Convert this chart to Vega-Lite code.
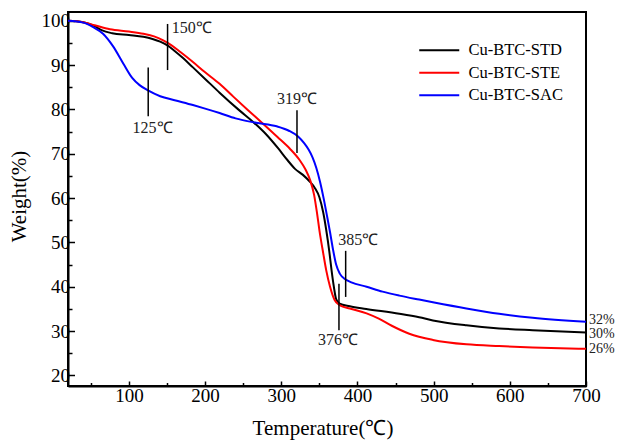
{
  "$schema": "https://vega.github.io/schema/vega-lite/v6.json",
  "width": 518,
  "height": 374,
  "autosize": {"type": "none"},
  "padding": {"left": 68, "top": 12, "right": 31, "bottom": 54},
  "background": "white",
  "config": {
    "font": "Liberation Serif",
    "view": {"stroke": "black", "strokeWidth": 2},
    "axis": {
      "grid": false,
      "domainColor": "black",
      "domainWidth": 2,
      "tickColor": "black",
      "tickWidth": 1.5,
      "labelColor": "black",
      "labelFontSize": 19,
      "labelFont": "Liberation Serif",
      "titleFont": "Liberation Serif",
      "titleFontSize": 21,
      "titleFontWeight": "normal",
      "titleColor": "black",
      "labelFlush": false,
      "labelOverlap": false,
      "labelBound": false
    }
  },
  "resolve": {"axis": {"x": "independent", "y": "independent"}},
  "datasets": {
    "curves": [
      {"sample": "Cu-BTC-STD", "T": 20, "W": 100},
      {"sample": "Cu-BTC-STD", "T": 40, "W": 99.7},
      {"sample": "Cu-BTC-STD", "T": 55, "W": 98.8},
      {"sample": "Cu-BTC-STD", "T": 64, "W": 97.9},
      {"sample": "Cu-BTC-STD", "T": 78, "W": 97.2},
      {"sample": "Cu-BTC-STD", "T": 100, "W": 96.8},
      {"sample": "Cu-BTC-STD", "T": 119, "W": 96.4},
      {"sample": "Cu-BTC-STD", "T": 131, "W": 95.9},
      {"sample": "Cu-BTC-STD", "T": 141, "W": 95.3},
      {"sample": "Cu-BTC-STD", "T": 151, "W": 94.4},
      {"sample": "Cu-BTC-STD", "T": 160, "W": 93.2},
      {"sample": "Cu-BTC-STD", "T": 171, "W": 91.6},
      {"sample": "Cu-BTC-STD", "T": 184, "W": 89.5},
      {"sample": "Cu-BTC-STD", "T": 200, "W": 86.9},
      {"sample": "Cu-BTC-STD", "T": 219, "W": 83.8},
      {"sample": "Cu-BTC-STD", "T": 245, "W": 79.8},
      {"sample": "Cu-BTC-STD", "T": 263, "W": 77.2},
      {"sample": "Cu-BTC-STD", "T": 280, "W": 74.4},
      {"sample": "Cu-BTC-STD", "T": 296, "W": 71.2},
      {"sample": "Cu-BTC-STD", "T": 308, "W": 68.6},
      {"sample": "Cu-BTC-STD", "T": 318, "W": 66.6},
      {"sample": "Cu-BTC-STD", "T": 328, "W": 65.3},
      {"sample": "Cu-BTC-STD", "T": 337, "W": 63.8},
      {"sample": "Cu-BTC-STD", "T": 344, "W": 62.3},
      {"sample": "Cu-BTC-STD", "T": 350, "W": 60.2},
      {"sample": "Cu-BTC-STD", "T": 355, "W": 56.8},
      {"sample": "Cu-BTC-STD", "T": 359, "W": 52.8},
      {"sample": "Cu-BTC-STD", "T": 363, "W": 48},
      {"sample": "Cu-BTC-STD", "T": 366, "W": 43.7},
      {"sample": "Cu-BTC-STD", "T": 369, "W": 40},
      {"sample": "Cu-BTC-STD", "T": 372, "W": 37.2},
      {"sample": "Cu-BTC-STD", "T": 376.5, "W": 36.2},
      {"sample": "Cu-BTC-STD", "T": 390, "W": 35.6},
      {"sample": "Cu-BTC-STD", "T": 411.5, "W": 35.0},
      {"sample": "Cu-BTC-STD", "T": 455, "W": 33.9},
      {"sample": "Cu-BTC-STD", "T": 481, "W": 33.1},
      {"sample": "Cu-BTC-STD", "T": 499, "W": 32.4},
      {"sample": "Cu-BTC-STD", "T": 543, "W": 31.3},
      {"sample": "Cu-BTC-STD", "T": 586, "W": 30.6},
      {"sample": "Cu-BTC-STD", "T": 630, "W": 30.2},
      {"sample": "Cu-BTC-STD", "T": 700, "W": 29.7},
      {"sample": "Cu-BTC-STE", "T": 20, "W": 100},
      {"sample": "Cu-BTC-STE", "T": 40, "W": 99.7},
      {"sample": "Cu-BTC-STE", "T": 55, "W": 99},
      {"sample": "Cu-BTC-STE", "T": 75, "W": 98.1},
      {"sample": "Cu-BTC-STE", "T": 100, "W": 97.6},
      {"sample": "Cu-BTC-STE", "T": 119, "W": 97.1},
      {"sample": "Cu-BTC-STE", "T": 133, "W": 96.5},
      {"sample": "Cu-BTC-STE", "T": 145, "W": 95.6},
      {"sample": "Cu-BTC-STE", "T": 155, "W": 94.6},
      {"sample": "Cu-BTC-STE", "T": 168, "W": 92.9},
      {"sample": "Cu-BTC-STE", "T": 184, "W": 90.7},
      {"sample": "Cu-BTC-STE", "T": 200, "W": 88.4},
      {"sample": "Cu-BTC-STE", "T": 219, "W": 85.8},
      {"sample": "Cu-BTC-STE", "T": 237, "W": 82.9},
      {"sample": "Cu-BTC-STE", "T": 256, "W": 79.9},
      {"sample": "Cu-BTC-STE", "T": 276, "W": 76.8},
      {"sample": "Cu-BTC-STE", "T": 295, "W": 73.8},
      {"sample": "Cu-BTC-STE", "T": 311, "W": 71.2},
      {"sample": "Cu-BTC-STE", "T": 324, "W": 68.6},
      {"sample": "Cu-BTC-STE", "T": 332, "W": 66.4},
      {"sample": "Cu-BTC-STE", "T": 338, "W": 64.0},
      {"sample": "Cu-BTC-STE", "T": 343, "W": 60.8},
      {"sample": "Cu-BTC-STE", "T": 347, "W": 56.5},
      {"sample": "Cu-BTC-STE", "T": 350, "W": 52.8},
      {"sample": "Cu-BTC-STE", "T": 355, "W": 47.6},
      {"sample": "Cu-BTC-STE", "T": 359, "W": 43.7},
      {"sample": "Cu-BTC-STE", "T": 364, "W": 40},
      {"sample": "Cu-BTC-STE", "T": 370, "W": 37},
      {"sample": "Cu-BTC-STE", "T": 377, "W": 35.8},
      {"sample": "Cu-BTC-STE", "T": 390, "W": 35.1},
      {"sample": "Cu-BTC-STE", "T": 412, "W": 34},
      {"sample": "Cu-BTC-STE", "T": 428, "W": 32.8},
      {"sample": "Cu-BTC-STE", "T": 445, "W": 31.2},
      {"sample": "Cu-BTC-STE", "T": 468, "W": 29.4},
      {"sample": "Cu-BTC-STE", "T": 499, "W": 28},
      {"sample": "Cu-BTC-STE", "T": 543, "W": 27},
      {"sample": "Cu-BTC-STE", "T": 586, "W": 26.6},
      {"sample": "Cu-BTC-STE", "T": 630, "W": 26.3},
      {"sample": "Cu-BTC-STE", "T": 700, "W": 26},
      {"sample": "Cu-BTC-SAC", "T": 20, "W": 100},
      {"sample": "Cu-BTC-SAC", "T": 40, "W": 99.6},
      {"sample": "Cu-BTC-SAC", "T": 53, "W": 98.6},
      {"sample": "Cu-BTC-SAC", "T": 66, "W": 97.1},
      {"sample": "Cu-BTC-SAC", "T": 79, "W": 94.3},
      {"sample": "Cu-BTC-SAC", "T": 92.5, "W": 90.4},
      {"sample": "Cu-BTC-SAC", "T": 104, "W": 87.2},
      {"sample": "Cu-BTC-SAC", "T": 114, "W": 85.5},
      {"sample": "Cu-BTC-SAC", "T": 125, "W": 84.3},
      {"sample": "Cu-BTC-SAC", "T": 141, "W": 83},
      {"sample": "Cu-BTC-SAC", "T": 160, "W": 82.1},
      {"sample": "Cu-BTC-SAC", "T": 184, "W": 81.0},
      {"sample": "Cu-BTC-SAC", "T": 200, "W": 80.2},
      {"sample": "Cu-BTC-SAC", "T": 219, "W": 79.2},
      {"sample": "Cu-BTC-SAC", "T": 240, "W": 78},
      {"sample": "Cu-BTC-SAC", "T": 267, "W": 77},
      {"sample": "Cu-BTC-SAC", "T": 294, "W": 76.2},
      {"sample": "Cu-BTC-SAC", "T": 310, "W": 75.2},
      {"sample": "Cu-BTC-SAC", "T": 322, "W": 73.9},
      {"sample": "Cu-BTC-SAC", "T": 330, "W": 72.4},
      {"sample": "Cu-BTC-SAC", "T": 336, "W": 70.9},
      {"sample": "Cu-BTC-SAC", "T": 341, "W": 69.2},
      {"sample": "Cu-BTC-SAC", "T": 346, "W": 66.8},
      {"sample": "Cu-BTC-SAC", "T": 351, "W": 63.6},
      {"sample": "Cu-BTC-SAC", "T": 356, "W": 59.6},
      {"sample": "Cu-BTC-SAC", "T": 360, "W": 56},
      {"sample": "Cu-BTC-SAC", "T": 364, "W": 52.3},
      {"sample": "Cu-BTC-SAC", "T": 368, "W": 48.3},
      {"sample": "Cu-BTC-SAC", "T": 372, "W": 45.0},
      {"sample": "Cu-BTC-SAC", "T": 377, "W": 42.9},
      {"sample": "Cu-BTC-SAC", "T": 383, "W": 41.8},
      {"sample": "Cu-BTC-SAC", "T": 392, "W": 41.0},
      {"sample": "Cu-BTC-SAC", "T": 412, "W": 40},
      {"sample": "Cu-BTC-SAC", "T": 433, "W": 38.9},
      {"sample": "Cu-BTC-SAC", "T": 455, "W": 38},
      {"sample": "Cu-BTC-SAC", "T": 481, "W": 37.1},
      {"sample": "Cu-BTC-SAC", "T": 499, "W": 36.5},
      {"sample": "Cu-BTC-SAC", "T": 543, "W": 35.1},
      {"sample": "Cu-BTC-SAC", "T": 586, "W": 33.9},
      {"sample": "Cu-BTC-SAC", "T": 630, "W": 33},
      {"sample": "Cu-BTC-SAC", "T": 700, "W": 32.1}
    ],
    "markers": [
      {"T": 150.7, "W1": 99.3, "W2": 88.9},
      {"T": 125.3, "W1": 89.5, "W2": 78.5},
      {"T": 320.6, "W1": 79.8, "W2": 70.2},
      {"T": 384.5, "W1": 48.1, "W2": 37.7},
      {"T": 375.7, "W1": 40.7, "W2": 30.2}
    ],
    "notes": [
      {"T": 182.6, "W": 98.5, "label": "150℃"},
      {"T": 131, "W": 75.9, "label": "125℃"},
      {"T": 320.6, "W": 82.3, "label": "319℃"},
      {"T": 401, "W": 50.5, "label": "385℃"},
      {"T": 374.4, "W": 27.9, "label": "376℃"}
    ],
    "ends": [
      {"T": 700, "W": 32.6, "label": "32%"},
      {"T": 700, "W": 29.4, "label": "30%"},
      {"T": 700, "W": 26.0, "label": "26%"}
    ]
  },
  "layer": [
    {
      "data": {"name": "curves"},
      "mark": {"type": "line", "interpolate": "monotone", "strokeWidth": 2, "clip": true},
      "encoding": {
        "x": {
          "field": "T", "type": "quantitative",
          "scale": {"domain": [20, 700], "nice": false, "zero": false},
          "axis": {
            "orient": "bottom",
            "title": "Temperature(℃)",
            "values": [100, 200, 300, 400, 500, 600, 700],
            "tickSize": -5,
            "labelPadding": 5,
            "titleX": 254.5,
            "titleY": 42,
            "titleAlign": "center",
            "titleBaseline": "middle"
          }
        },
        "y": {
          "field": "W", "type": "quantitative",
          "scale": {"domain": [17.6, 102], "nice": false, "zero": false},
          "axis": {
            "orient": "left",
            "title": "Weight(%)",
            "values": [20, 30, 40, 50, 60, 70, 80, 90, 100],
            "tickSize": -6.5,
            "labelPadding": 5,
            "titleX": -49,
            "titleY": 184,
            "titleAngle": -90,
            "titleAlign": "center",
            "titleBaseline": "middle"
          }
        },
        "color": {
          "field": "sample", "type": "nominal",
          "scale": {"domain": ["Cu-BTC-STD", "Cu-BTC-STE", "Cu-BTC-SAC"], "range": ["#000000", "#ff0000", "#0000ff"]},
          "legend": {
            "title": null,
            "orient": "none",
            "legendX": 363,
            "legendY": 30,
            "symbolType": "M-4,0H4",
            "symbolSize": 100,
            "symbolStrokeWidth": 2,
            "symbolFillColor": "transparent",
            "labelFontSize": 16.5,
            "labelFont": "Liberation Serif",
            "labelColor": "black",
            "labelOffset": 21,
            "rowPadding": 5.5
          }
        }
      }
    },
    {
      "data": {"name": "markers"},
      "mark": {"type": "rule", "color": "black", "strokeWidth": 1.5},
      "encoding": {
        "x": {
          "field": "T", "type": "quantitative",
          "axis": {
            "orient": "bottom",
            "title": null,
            "values": [50, 150, 250, 350, 450, 550, 650],
            "labels": false,
            "domain": false,
            "tickSize": -3.5
          }
        },
        "y": {
          "field": "W1", "type": "quantitative",
          "axis": {
            "orient": "left",
            "title": null,
            "values": [25, 35, 45, 55, 65, 75, 85, 95],
            "labels": false,
            "domain": false,
            "tickSize": -4
          }
        },
        "y2": {"field": "W2"}
      }
    },
    {
      "data": {"name": "notes"},
      "mark": {"type": "text", "fontSize": 16, "align": "center", "baseline": "middle", "color": "#222222", "font": "Liberation Serif"},
      "encoding": {
        "x": {"field": "T", "type": "quantitative", "axis": null},
        "y": {"field": "W", "type": "quantitative", "axis": null},
        "text": {"field": "label"}
      }
    },
    {
      "data": {"name": "ends"},
      "mark": {"type": "text", "fontSize": 14, "align": "left", "baseline": "middle", "dx": 3, "color": "#222222", "font": "Liberation Serif"},
      "encoding": {
        "x": {"field": "T", "type": "quantitative", "axis": null},
        "y": {"field": "W", "type": "quantitative", "axis": null},
        "text": {"field": "label"}
      }
    }
  ]
}
